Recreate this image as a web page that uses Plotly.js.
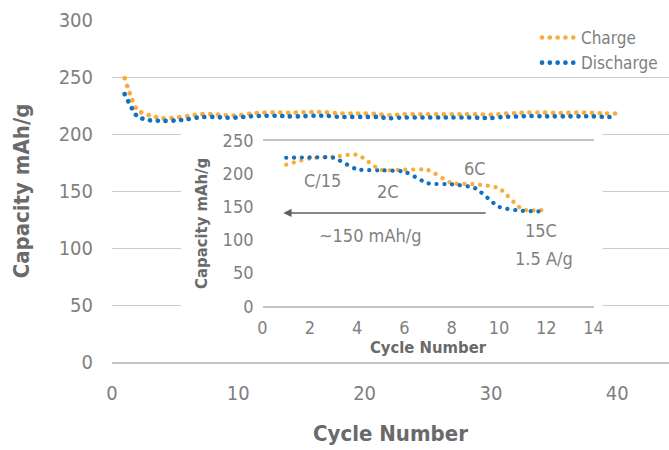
<!DOCTYPE html>
<html>
<head>
<meta charset="utf-8">
<script src="https://cdn.plot.ly/plotly-3.0.1.min.js"></script>
<style>
  html, body { margin: 0; padding: 0; background: #ffffff; }
  #chart { width: 669px; height: 450px; }
  /* round caps turn the zero-length dashes into dots */
  .scatterlayer path.js-line, .legendlines path { stroke-linecap: round !important; }
</style>
</head>
<body>
<div id="chart"></div>
<script>
// Long-run cycling (main plot)
const cycles = [1,2,3,4,5,6,7,8,9,10,11,12,13,14,15,16,17,18,19,20,
                21,22,23,24,25,26,27,28,29,30,31,32,33,34,35,36,37,38,39,40];
const chargeCap = [249,221,216.3,213.7,214.3,215.8,217.4,217.4,216.5,216.3,
                   218,218.8,219,218.5,219,219.4,219,218,218,218,
                   217.5,216.5,217.3,217.3,217.3,217.3,217.3,217.3,217.3,216.8,
                   217.8,218.3,218.8,218.8,218.5,218.5,218.8,218.5,218,218];
const dischargeCap = [235,215.5,212,211.5,211.8,213,214.8,215,214.3,214.5,
                      215.5,216,216,215.5,215.5,216,216,215,215,215,
                      215,213.8,214.5,214.5,214.5,214.5,214.5,214.5,214.3,214,
                      215,215.3,215.8,215.5,215.5,215.5,215.5,215.5,215,215];

// Rate test (inset)
const rateCycles = [1,2,3,4,5,6,7,8,9,10,11,12];
const rateCharge = [213.5,223,225.5,228.5,206,206,205.5,186,184,178,146,145.5];
const rateDischarge = [224,224.5,224,206.5,205,203,185.5,184,178,150,144,143];

// Rate labels
const rateLabels = ['C/15', '2C', '6C', '15C', '1.5 A/g', '~150 mAh/g'];

const mainTicks = [0,50,100,150,200,250,300];
const mainXTicks = [0,10,20,30,40];
const insetTicks = [0,50,100,150,200,250];
const insetXTicks = [0,2,4,6,8,10,12,14];

const ORANGE = '#f8ac3a';
const BLUE = '#1270c2';
const TICK = '#7f7f7f';
const TITLE = '#6a6a6a';
const FONT = '"Liberation Sans Narrow", "DejaVu Sans Condensed", Roboto, sans-serif';
const DOTS = '0.1px,7.7px';

const traces = [
  {x: cycles, y: chargeCap, name: 'Charge', type: 'scatter', mode: 'lines',
   line: {color: ORANGE, width: 4.6, dash: DOTS, shape: 'spline', smoothing: 0.6},
   xaxis: 'x', yaxis: 'y', hoverinfo: 'skip'},
  {x: cycles, y: dischargeCap, name: 'Discharge', type: 'scatter', mode: 'lines',
   line: {color: BLUE, width: 4.6, dash: DOTS, shape: 'spline', smoothing: 0.6},
   xaxis: 'x', yaxis: 'y', hoverinfo: 'skip'},
  {x: rateCycles, y: rateCharge, name: 'Charge', type: 'scatter', mode: 'lines',
   line: {color: ORANGE, width: 4.2, dash: DOTS, shape: 'spline', smoothing: 0.6},
   xaxis: 'x2', yaxis: 'y2', showlegend: false, hoverinfo: 'skip'},
  {x: rateCycles, y: rateDischarge, name: 'Discharge', type: 'scatter', mode: 'lines',
   line: {color: BLUE, width: 4.2, dash: DOTS, shape: 'spline', smoothing: 0.6},
   xaxis: 'x2', yaxis: 'y2', showlegend: false, hoverinfo: 'skip'}
];

const tickFont = {family: FONT, size: 20, color: TICK};
const insetTickFont = {family: FONT, size: 18, color: TICK};
const noteFont = {family: FONT, size: 18, color: TICK};

function note(text, x, y) {
  return {text: text, x: x, y: y, xref: 'x2', yref: 'y2', showarrow: false, font: noteFont};
}

const layout = {
  width: 669, height: 450,
  margin: {l: 112, r: 0, t: 20, b: 87.5},
  paper_bgcolor: '#ffffff', plot_bgcolor: '#ffffff',
  font: {family: FONT, color: TICK},
  showlegend: true,
  legend: {x: 0.763, y: 1.0, xanchor: 'left', yanchor: 'top', itemwidth: 34,
           bgcolor: 'rgba(0,0,0,0)', font: {family: FONT, size: 17, color: TICK},
           tracegroupgap: 0},
  xaxis: {
    domain: [0, 1], range: [0, 44.1], tickvals: mainXTicks,
    showgrid: false, zeroline: false, showline: true, linecolor: '#c3c3c3', linewidth: 2,
    ticks: '', tickfont: tickFont, ticklabelstandoff: 12,
    title: {text: 'Cycle Number', standoff: 22, font: {family: FONT, size: 22, color: TITLE, weight: 'bold'}}
  },
  yaxis: {
    domain: [0, 1], range: [0, 300], tickvals: mainTicks,
    showgrid: true, gridcolor: '#cbcbcb', gridwidth: 1, zeroline: false, showline: false,
    ticks: '', tickfont: tickFont, ticklabelstandoff: 18,
    title: {text: 'Capacity mAh/g', standoff: 22, font: {family: FONT, size: 22, color: TITLE, weight: 'bold'}}
  },
  xaxis2: {
    domain: [0.2702, 0.8645], anchor: 'y2', range: [0, 14], tickvals: insetXTicks,
    showgrid: false, zeroline: false, showline: true, mirror: true, linecolor: '#c3c3c3', linewidth: 1.5,
    ticks: '', tickfont: insetTickFont, ticklabelstandoff: 5,
    title: {text: 'Cycle Number', standoff: 1, font: {family: FONT, size: 16.5, color: TITLE, weight: 'bold'}}
  },
  yaxis2: {
    domain: [0.1629, 0.6476], anchor: 'x2', range: [0, 250], tickvals: insetTicks,
    showgrid: false, zeroline: false, showline: false,
    ticks: '', tickfont: insetTickFont, ticklabelstandoff: 8,
    title: {text: 'Capacity mAh/g', standoff: 10, font: {family: FONT, size: 16.5, color: TITLE, weight: 'bold'}}
  },
  shapes: [
    // white panel behind the inset, hiding the main grid there
    {type: 'rect', xref: 'x', yref: 'y', x0: 5.47, x1: 38.85, y0: 3.9, y1: 208,
     fillcolor: '#ffffff', line: {width: 0}, layer: 'between'}
  ],
  annotations: [
    note(rateLabels[0], 2.54, 189),
    note(rateLabels[1], 5.31, 172.7),
    note(rateLabels[2], 8.99, 208),
    note(rateLabels[3], 11.78, 114.8),
    note(rateLabels[4], 11.9, 71.8),
    note(rateLabels[5], 4.55, 107),
    {text: '', x: 0.88, y: 140.7, ax: 9.5, ay: 140.7, xref: 'x2', yref: 'y2', axref: 'x2', ayref: 'y2',
     showarrow: true, arrowhead: 2, arrowsize: 1.1, arrowwidth: 1.5, arrowcolor: '#606060'}
  ]
};

Plotly.newPlot('chart', traces, layout, {staticPlot: true, displayModeBar: false});
</script>
</body>
</html>
